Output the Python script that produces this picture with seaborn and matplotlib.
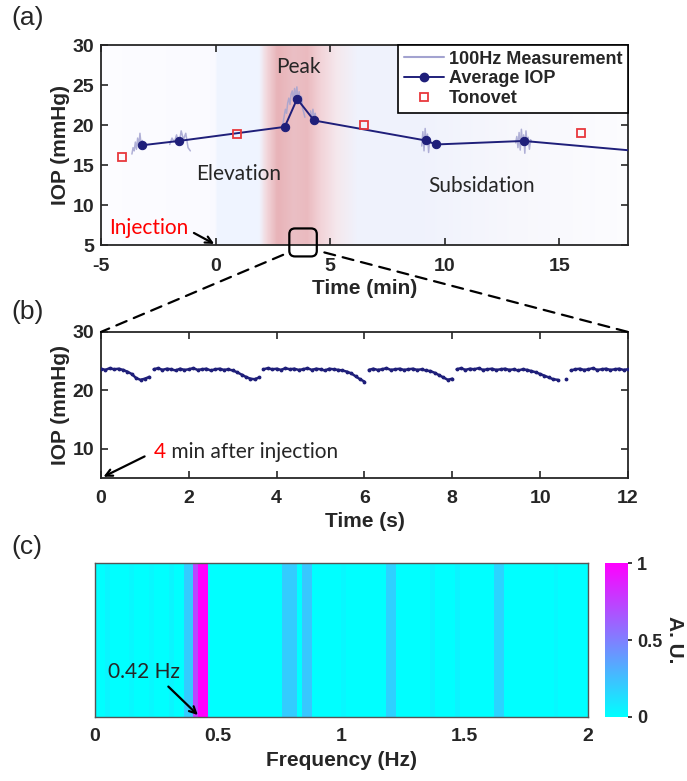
import numpy as np
import pandas as pd
import matplotlib
matplotlib.use("Agg")
import matplotlib.pyplot as plt
import seaborn as sns
from matplotlib.lines import Line2D
from matplotlib.patches import FancyBboxPatch, ConnectionPatch

# ---- panel (a) data (minutes, mmHg) ----
avg_t = [-3.21, -1.60, 3.02, 3.56, 4.30, 9.17, 9.62, 13.45, 19.5]
avg_v = [17.5, 18.04, 19.8, 23.3, 20.6, 18.1, 17.6, 18.04, 16.5]
tono_t = [-4.07, 0.94, 6.46, 15.97]
tono_v = [16.04, 18.96, 20.0, 19.04]

# 100 Hz bursts around each average point
b1_t = [-3.65, -3.6, -3.55, -3.5, -3.45, -3.4, -3.35, -3.3, -3.25, -3.2, -3.15]
b1_v = [16.4, 17.2, 16.8, 17.9, 17.0, 18.4, 17.3, 19.0, 17.6, 18.1, 17.4]
b2_t = [-2.0, -1.9, -1.8, -1.7, -1.6, -1.5, -1.4, -1.3, -1.2, -1.1]
b2_v = [17.6, 18.4, 17.9, 18.8, 17.5, 19.3, 18.2, 19.0, 17.2, 16.8]
b3_t = [2.9, 2.95, 3.0, 3.05, 3.1, 3.15, 3.2, 3.25, 3.3, 3.35, 3.4, 3.45,
        3.5, 3.55, 3.6, 3.65, 3.7, 3.75, 3.8, 3.85, 3.9]
b3_v = [19.5, 20.3, 21.2, 22.0, 21.5, 22.8, 23.4, 22.6, 23.9, 24.3, 23.1,
        24.6, 23.5, 24.8, 23.0, 24.2, 22.7, 23.6, 22.1, 21.6, 21.0]
b4_t = [4.15, 4.2, 4.25, 4.3, 4.35, 4.4]
b4_v = [21.8, 20.4, 22.0, 20.9, 21.5, 20.3]
b5_t = [9.0, 9.05, 9.1, 9.15, 9.2, 9.25, 9.3, 9.35, 9.4]
b5_v = [17.4, 19.2, 16.8, 19.6, 17.6, 18.9, 16.6, 18.3, 17.8]
b6_t = [13.1, 13.15, 13.2, 13.25, 13.3, 13.35, 13.4, 13.45, 13.5, 13.55,
        13.6, 13.65, 13.7, 13.75, 13.8]
b6_v = [17.8, 18.6, 17.2, 19.1, 16.9, 19.5, 17.5, 18.8, 16.5, 19.3, 17.7,
        18.5, 17.0, 18.2, 17.9]
bursts = [(b1_t, b1_v), (b2_t, b2_v), (b3_t, b3_v), (b4_t, b4_v),
          (b5_t, b5_v), (b6_t, b6_v)]

# background shading stops
shade_x = [-5, -0.05, 0.05, 1.9, 2.2, 2.7, 3.4, 4.0, 4.6, 5.3, 6.2, 9.0, 13.0, 18.0]
shade_rgb = [(0.99, 0.99, 1.0), (0.98, 0.98, 1.0), (0.94, 0.96, 1.0),
             (0.94, 0.96, 1.0), (0.95, 0.85, 0.87), (0.91, 0.70, 0.72),
             (0.92, 0.75, 0.77), (0.92, 0.73, 0.75), (0.95, 0.83, 0.85),
             (0.96, 0.91, 0.93), (0.94, 0.95, 0.99), (0.94, 0.95, 0.99),
             (0.97, 0.97, 0.99), (0.99, 0.99, 1.0)]

# ---- panel (b) data: 0.1 s readings ----
zoom_v = [23.7, 23.5, 23.8, 23.6, 23.7, 23.5, 23.2, 22.8, 22.1, 21.8,
          22.0, 22.3, 23.6, 23.8, 23.5, 23.7, 23.6, 23.4, 23.7, 23.5,
          23.6, 23.8, 23.5, 23.6, 23.7, 23.4, 23.6, 23.7, 23.5, 23.6,
          23.4, 23.1, 22.7, 22.3, 22.0, 21.9, 22.2, 23.6, 23.8, 23.6,
          23.7, 23.5, 23.8, 23.6, 23.7, 23.5, 23.6, 23.8, 23.5, 23.7,
          23.6, 23.4, 23.7, 23.6, 23.5, 23.4, 23.2, 22.9, 22.4, 21.9,
          21.5, 23.5, 23.7, 23.5, 23.6, 23.8, 23.5, 23.6, 23.7, 23.5,
          23.6, 23.7, 23.5, 23.6, 23.4, 23.3, 23.0, 22.6, 22.2, 21.8,
          22.0, 23.6, 23.8, 23.5, 23.7, 23.6, 23.8, 23.5, 23.6, 23.7,
          23.5, 23.6, 23.7, 23.5, 23.6, 23.4, 23.6, 23.5, 23.3, 23.1,
          22.8, 22.5, 22.2, 21.9, 21.8, np.nan, 22.0, 23.4, 23.6, 23.7,
          23.5, 23.6, 23.8, 23.5, 23.6, 23.7, 23.5, 23.6, 23.7, 23.5,
          23.6]
zoom_t = np.round(np.arange(len(zoom_v)) * 0.1, 1)

# ---- panel (c) data: spectrum bands (Hz) ----
band_lo = [0.04, 0.14, 0.22, 0.30, 0.36, 0.40, 0.42, 0.76, 0.84, 1.00, 1.18, 1.36, 1.46, 1.62, 1.86]
band_hi = [0.06, 0.16, 0.24, 0.32, 0.40, 0.42, 0.46, 0.82, 0.88, 1.02, 1.22, 1.38, 1.48, 1.66, 1.88]
band_val = [0.04, 0.03, 0.03, 0.04, 0.2, 0.72, 1.0, 0.2, 0.22, 0.03, 0.18, 0.05, 0.05, 0.17, 0.03]
bin_w = 0.02
freq = np.round(np.arange(0, 2, bin_w), 2)

sns.set_theme(style="ticks")
plt.rcParams['font.family'] = ['Liberation Sans', 'DejaVu Sans']
ann_font = ['Lato', 'DejaVu Sans']
navy = '#1f1f7a'
red = '#e8383d'

fig = plt.figure(figsize=(6.87, 7.81), dpi=100)
ax_a = fig.add_axes([0.147, 0.686, 0.767, 0.256])
ax_b = fig.add_axes([0.147, 0.388, 0.767, 0.187])
ax_c = fig.add_axes([0.138, 0.082, 0.718, 0.197])
cax = fig.add_axes([0.881, 0.082, 0.033, 0.197])

# ----- (a) -----
gx = np.linspace(-5, 18, 400)
grad = np.stack([np.interp(gx, shade_x, [c[i] for c in shade_rgb]) for i in range(3)], axis=-1)
ax_a.imshow(grad[None, :, :], extent=[-5, 18, 5, 30], aspect='auto', zorder=0)
for bt, bv in bursts:
    ax_a.plot(bt, bv, color='#a3a3d0', lw=1.1, alpha=0.85, zorder=2)
df_avg = pd.DataFrame({'t': avg_t, 'v': avg_v})
sns.lineplot(data=df_avg, x='t', y='v', sort=False, color=navy, lw=1.4,
             marker='o', markersize=6, markeredgecolor=navy, ax=ax_a, zorder=3)
ax_a.plot(tono_t, tono_v, ls='none', marker='s', ms=6, mfc='none',
          mec=red, mew=1.3, zorder=4)
ax_a.set_xlim(-5, 18)
ax_a.set_ylim(5, 30)
ax_a.set_xticks([-5, 0, 5, 10, 15])
ax_a.set_xticklabels(['-5', '0', '5', '10', '15'])
ax_a.set_yticks([5, 10, 15, 20, 25, 30])
ax_a.set_xlabel('Time (min)', fontsize=15, fontweight='bold', labelpad=3)
ax_a.set_ylabel('IOP (mmHg)', fontsize=15, fontweight='bold', labelpad=2)
ax_a.text(3.6, 27.3, 'Peak', family=ann_font, fontsize=15, ha='center', va='center')
ax_a.text(1.0, 13.9, 'Elevation', family=ann_font, fontsize=15, ha='center', va='center')
ax_a.text(11.6, 12.4, 'Subsidation', family=ann_font, fontsize=15, ha='center', va='center')
ax_a.text(-2.9, 7.2, 'Injection', family=ann_font, fontsize=15, color='red',
          ha='center', va='center')
ax_a.annotate('', xy=(0.05, 5.0), xytext=(-1.05, 6.7),
              arrowprops=dict(arrowstyle='->', color='black', lw=1.6))
handles = [Line2D([], [], color='#a3a3d0', lw=1.5),
           Line2D([], [], color=navy, lw=1.4, marker='o', ms=6),
           Line2D([], [], ls='none', marker='s', ms=6, mfc='none', mec=red, mew=1.3)]
leg = ax_a.legend(handles, ['100Hz Measurement', 'Average IOP', 'Tonovet'],
                  loc='upper right', borderaxespad=0, fancybox=False,
                  framealpha=1, edgecolor='black', handlelength=2.2,
                  labelspacing=0.15, borderpad=0.3, handletextpad=0.3,
                  prop={'size': 13, 'weight': 'bold'})
leg.get_frame().set_linewidth(1.2)
zbox = FancyBboxPatch((3.22, 3.6), 1.2, 3.5,
                      boxstyle='round,pad=0,rounding_size=0.25',
                      mutation_aspect=2.86, fc='none', ec='black', lw=1.6,
                      clip_on=False, zorder=6)
ax_a.add_patch(zbox)

# ----- (b) -----
vals = np.array(zoom_v, dtype=float)
jump = np.r_[False, np.diff(vals) > 0.8]
t_line = zoom_t.astype(float)
ins = np.where(jump)[0]
t_line = np.insert(t_line, ins, np.nan)
vals_line = np.insert(vals, ins, np.nan)
ax_b.plot(t_line, vals_line, color=navy, lw=1.8, marker='.', ms=3.5, zorder=3)
ax_b.set_xlim(0, 12)
ax_b.set_ylim(5, 30)
ax_b.set_xticks(range(0, 13, 2))
ax_b.set_yticks([10, 20, 30])
ax_b.set_xlabel('Time (s)', fontsize=15, fontweight='bold', labelpad=3)
ax_b.set_ylabel('IOP (mmHg)', fontsize=15, fontweight='bold', labelpad=2)
t4 = ax_b.text(1.2, 9.45, '4', family=ann_font, fontsize=15, color='red', va='center')
ax_b.annotate(' min after injection', xy=(1, 0.5), xycoords=t4, va='center',
              family=ann_font, fontsize=15)
ax_b.annotate('', xy=(0, 5.0), xytext=(1.05, 8.9),
              arrowprops=dict(arrowstyle='->', color='black', lw=1.6),
              annotation_clip=False)

# dashed zoom lines
for xyA, xyB in [((2.95, 3.8), (0, 1)), ((4.75, 4.1), (1, 1))]:
    con = ConnectionPatch(xyA=xyA, coordsA=ax_a.transData, xyB=xyB,
                          coordsB=ax_b.transAxes, ls=(0, (5, 3.5)),
                          color='black', lw=1.6)
    fig.add_artist(con)

# ----- (c) -----
spec = np.zeros(len(freq))
for lo, hi, v in zip(band_lo, band_hi, band_val):
    spec[(freq >= lo - 1e-9) & (freq < hi - 1e-9)] = v
spec_df = pd.DataFrame([spec], columns=freq)
sns.heatmap(spec_df, cmap='cool', vmin=0, vmax=1, ax=ax_c, cbar_ax=cax,
            xticklabels=False, yticklabels=False)
ax_c.set_xticks(np.array([0, 0.5, 1, 1.5, 2]) / bin_w)
ax_c.set_xticklabels(['0', '0.5', '1', '1.5', '2'])
ax_c.set_yticks([])
ax_c.set_xlabel('Frequency (Hz)', fontsize=15, fontweight='bold', labelpad=4)
for s in ax_c.spines.values():
    s.set_visible(True)
    s.set_color('#555555')
    s.set_linewidth(1.0)
ax_c.text(0.10, 0.29, '0.42 Hz', transform=ax_c.transAxes, family=ann_font,
          fontsize=15, ha='center', va='center')
ax_c.annotate('', xy=(0.213, 0.0), xycoords='axes fraction',
              xytext=(0.145, 0.21), textcoords='axes fraction',
              arrowprops=dict(arrowstyle='->', color='black', lw=1.6))
cbar = ax_c.collections[0].colorbar
cbar.set_ticks([0, 0.5, 1])
cbar.set_ticklabels(['0', '0.5', '1'])
cbar.outline.set_visible(False)
cax.tick_params(labelsize=13, length=3, direction='out')
for lab in cax.get_yticklabels():
    lab.set_fontweight('bold')
cbar.set_label('A. U.', rotation=270, fontsize=15, fontweight='bold', labelpad=16)

for ax in (ax_a, ax_b):
    ax.tick_params(direction='in', top=True, right=True, length=5, width=1.2,
                   labelsize=14, pad=5)
    ax.tick_params(axis='x', pad=9)
    for s in ax.spines.values():
        s.set_color('#262626')
        s.set_linewidth(1.3)
for ax in (ax_a, ax_b, ax_c):
    for lab in ax.get_xticklabels() + ax.get_yticklabels():
        lab.set_fontweight('bold')
ax_c.tick_params(axis='x', labelsize=14, length=0, pad=8)

fig.text(0.016, 0.977, '(a)', fontsize=19, va='center')
fig.text(0.016, 0.601, '(b)', fontsize=19, va='center')
fig.text(0.016, 0.299, '(c)', fontsize=19, va='center')

fig.savefig('out.png', dpi=100)
